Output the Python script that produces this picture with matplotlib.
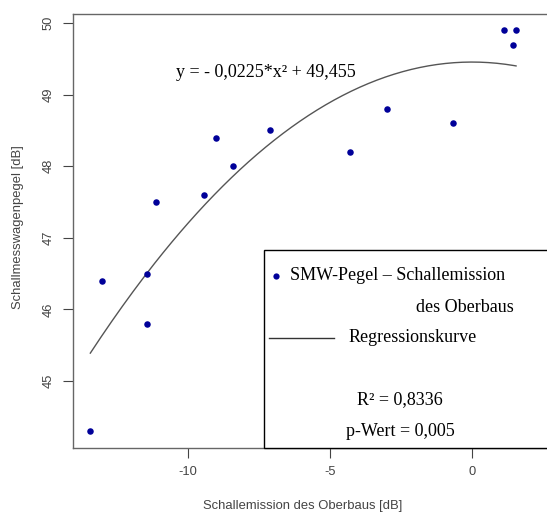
import numpy as np
import matplotlib
matplotlib.use("Agg")
import matplotlib.pyplot as plt
from matplotlib.patches import Rectangle
from matplotlib.lines import Line2D

plt.rcParams["axes.unicode_minus"] = False

# Oberbau-Schallemission [dB] vs. Schallmesswagenpegel [dB]
x_emission = [-13.44, -13.04, -11.44, -11.44, -11.13, -9.43, -9.0, -8.4,
              -7.1, -4.31, -2.98, -0.68, 1.13, 1.43, 1.55]
y_pegel = [44.3, 46.4, 46.5, 45.8, 47.5, 47.6, 48.4, 48.0,
           48.5, 48.2, 48.8, 48.6, 49.9, 49.7, 49.9]
coef_a = -0.0225
coef_c = 49.455

xticks = [-10, -5, 0]
yticks = [45, 46, 47, 48, 49, 50]

W, H = 547, 515
fig = plt.figure(figsize=(W / 100, H / 100), dpi=100)
ax_l, ax_r, ax_t, ax_b = 73, 549, 14, 447.7
ax = fig.add_axes([ax_l / W, 1 - ax_b / H, (ax_r - ax_l) / W, (ax_b - ax_t) / H])

grey = "#444444"
ax.scatter(x_emission, y_pegel, s=22, color="#000099", zorder=3, linewidths=0)
xs = np.linspace(min(x_emission), max(x_emission), 200)
ax.plot(xs, coef_a * xs ** 2 + coef_c, color="#555555", lw=1)

ax.set_xlim(-14.05, 2.71)
ax.set_ylim(44.07, 50.126)
ax.set_xticks(xticks)
ax.set_yticks(yticks)
ax.tick_params(direction="out", length=7, width=0.8, color=grey, labelcolor=grey,
               labelsize=9.3, pad=6)
for lab in ax.get_yticklabels():
    lab.set_rotation(90)
    lab.set_va("center")
for s in ax.spines.values():
    s.set_color("#666666")
    s.set_linewidth(1)

sans = "Liberation Sans"
for lab in ax.get_xticklabels() + ax.get_yticklabels():
    lab.set_family(sans)

fig.text(303 / W, 1 - 506 / H, "Schallemission des Oberbaus [dB]", ha="center",
         va="center", fontsize=9.4, color=grey, family=sans)
fig.text(18 / W, 1 - 227 / H, "Schallmesswagenpegel [dB]", ha="center", va="center",
         rotation=90, fontsize=9.4, color=grey, family=sans)

serif = "Liberation Serif"
fs = 13
ax.text(0.216, 0.866, "y = - 0,0225*x\u00b2 + 49,455", transform=ax.transAxes,
        fontsize=fs, family=serif, va="center", ha="left")

# legend box
def fx(px):
    return (px - ax_l) / (ax_r - ax_l)

def fy(py):
    return (ax_b - py) / (ax_b - ax_t)

ax.add_patch(Rectangle((fx(264), 0), 1.0, fy(250), transform=ax.transAxes,
                       facecolor="white", edgecolor="black", lw=1, zorder=4,
                       clip_on=False))
ax.add_line(Line2D([fx(276)], [fy(276)], marker="o", ms=4.5, color="#000099",
                   mec="none", transform=ax.transAxes, zorder=5))
ax.text(fx(290), fy(276), "SMW-Pegel \u2013 Schallemission", transform=ax.transAxes,
        fontsize=fs, family=serif, va="center", ha="left", zorder=5)
ax.text(fx(514), fy(308), "des Oberbaus", transform=ax.transAxes,
        fontsize=fs, family=serif, va="center", ha="right", zorder=5)
ax.add_line(Line2D([fx(269), fx(334)], [fy(338), fy(338)], color="#333333", lw=1,
                   transform=ax.transAxes, zorder=5))
ax.text(fx(349), fy(338), "Regressionskurve", transform=ax.transAxes,
        fontsize=fs, family=serif, va="center", ha="left", zorder=5)
ax.text(fx(400), fy(400), "R\u00b2 = 0,8336", transform=ax.transAxes,
        fontsize=fs, family=serif, va="center", ha="center", zorder=5)
ax.text(fx(400), fy(431), "p-Wert = 0,005", transform=ax.transAxes,
        fontsize=fs, family=serif, va="center", ha="center", zorder=5)

fig.savefig("out.png", dpi=100)
